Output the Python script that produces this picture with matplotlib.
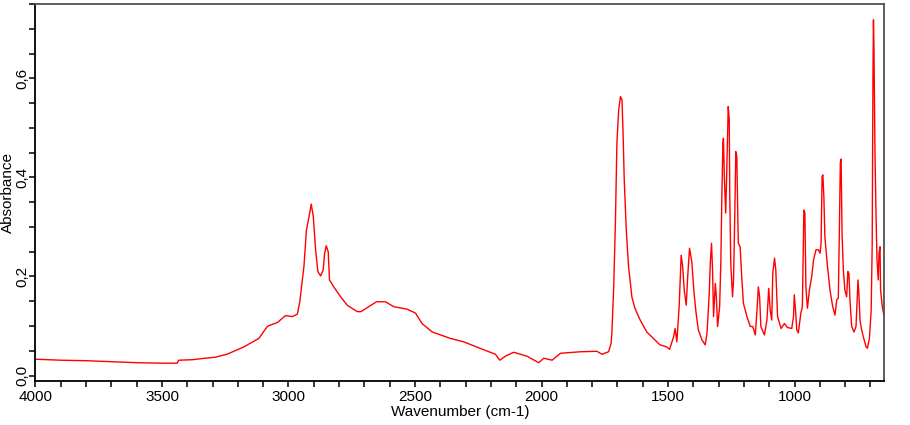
import matplotlib
matplotlib.use("Agg")
import matplotlib.pyplot as plt
from matplotlib.ticker import MultipleLocator, FuncFormatter

wavenumber = [
    4000, 3900, 3800, 3700, 3600, 3500, 3440, 3434, 3380, 3330, 3290, 3243, 3176, 3117,
    3084, 3071, 3044, 3012, 2985, 2965, 2955, 2950, 2939, 2929, 2920, 2910, 2902, 2893,
    2884, 2873, 2863, 2857, 2851, 2843, 2838, 2821, 2794, 2768, 2728, 2714, 2683, 2652,
    2617, 2584, 2531, 2498, 2472, 2432, 2360, 2307, 2228, 2182, 2165, 2143, 2110, 2057,
    2011, 1991, 1958, 1925, 1847, 1781, 1761, 1735, 1725, 1722, 1715, 1708, 1702, 1695,
    1688, 1682, 1678, 1673, 1665, 1656, 1650, 1643, 1631, 1610, 1584, 1558, 1532, 1506,
    1494, 1478, 1472, 1465, 1456, 1448, 1442, 1436, 1428, 1423, 1415, 1406, 1397, 1389,
    1380, 1366, 1353, 1346, 1337, 1333, 1328, 1324, 1320, 1313, 1309, 1304, 1296, 1291,
    1287, 1283, 1281, 1277, 1272, 1268, 1262, 1258, 1256, 1252, 1245, 1241, 1236, 1232,
    1228, 1224, 1222, 1215, 1208, 1202, 1188, 1175, 1165, 1155, 1149, 1143, 1138, 1133,
    1119, 1109, 1102, 1096, 1090, 1086, 1079, 1074, 1067, 1053, 1040, 1028, 1011, 1004,
    1001, 996, 991, 985, 975, 969, 965, 963, 959, 955, 949, 941, 932, 925, 915, 906, 899,
    895, 891, 888, 884, 880, 871, 860, 849, 840, 833, 827, 823, 819, 816, 812, 807, 801,
    794, 789, 785, 781, 774, 765, 757, 752, 749, 745, 741, 736, 728, 717, 712, 704, 697,
    693, 690, 688, 686, 682, 678, 674, 669, 666, 662, 660, 653, 647, 645,
]
absorbance = [
    0.033, 0.031, 0.030, 0.028, 0.026, 0.025, 0.025, 0.031, 0.032, 0.035, 0.037, 0.043, 0.058, 0.075,
    0.099, 0.102, 0.107, 0.121, 0.119, 0.124, 0.150, 0.173, 0.220, 0.294, 0.318, 0.346, 0.321, 0.254,
    0.210, 0.201, 0.213, 0.247, 0.262, 0.250, 0.193, 0.179, 0.159, 0.142, 0.129, 0.129, 0.139, 0.149,
    0.149, 0.139, 0.134, 0.126, 0.105, 0.088, 0.075, 0.068, 0.052, 0.043, 0.031, 0.039, 0.047, 0.039,
    0.026, 0.035, 0.031, 0.045, 0.048, 0.049, 0.043, 0.048, 0.065, 0.085, 0.173, 0.307, 0.469, 0.536,
    0.563, 0.557, 0.496, 0.395, 0.294, 0.220, 0.193, 0.159, 0.136, 0.112, 0.088, 0.075, 0.062, 0.058,
    0.053, 0.078, 0.095, 0.068, 0.139, 0.243, 0.220, 0.173, 0.142, 0.193, 0.257, 0.230, 0.166, 0.126,
    0.092, 0.072, 0.062, 0.085, 0.166, 0.227, 0.267, 0.213, 0.119, 0.186, 0.159, 0.099, 0.139, 0.233,
    0.368, 0.469, 0.479, 0.395, 0.328, 0.408, 0.543, 0.516, 0.368, 0.227, 0.159, 0.193, 0.328, 0.452,
    0.442, 0.314, 0.267, 0.260, 0.193, 0.146, 0.119, 0.099, 0.099, 0.082, 0.126, 0.179, 0.159, 0.099,
    0.082, 0.112, 0.176, 0.132, 0.112, 0.206, 0.237, 0.213, 0.119, 0.095, 0.105, 0.097, 0.095, 0.119,
    0.163, 0.132, 0.092, 0.086, 0.126, 0.139, 0.274, 0.334, 0.328, 0.179, 0.136, 0.173, 0.200, 0.233, 0.254, 0.254, 0.247,
    0.267, 0.402, 0.405, 0.361, 0.280, 0.227, 0.173, 0.139, 0.122, 0.153, 0.156, 0.284, 0.429, 0.437, 0.284, 0.213, 0.173,
    0.159, 0.210, 0.206, 0.153, 0.099, 0.088, 0.099, 0.156, 0.193, 0.159, 0.112, 0.095, 0.078, 0.058, 0.055, 0.075, 0.132,
    0.264, 0.600, 0.718, 0.660, 0.450, 0.328, 0.233, 0.193, 0.247, 0.260, 0.173, 0.139, 0.122, 0.120,
]

plt.rcParams['font.family'] = ['Liberation Sans', 'DejaVu Sans']

fig = plt.figure(figsize=(9.1, 4.25), dpi=100)
ax = fig.add_axes([0.039, 0.1035, 0.9328, 0.8871])
ax.plot(wavenumber, absorbance, color='#ff0000', lw=1.0)

ax.set_xlim(4000, 645)
ax.set_ylim(-0.011, 0.75)

ax.xaxis.set_major_locator(MultipleLocator(500))
ax.xaxis.set_minor_locator(MultipleLocator(100))
ax.yaxis.set_major_locator(MultipleLocator(0.2))
ax.yaxis.set_minor_locator(MultipleLocator(0.05))
ax.yaxis.set_major_formatter(FuncFormatter(lambda v, p: f"{v:.1f}".replace('.', ',')))
ax.xaxis.set_major_formatter(FuncFormatter(lambda v, p: f"{v:.0f}"))

ax.tick_params(which='both', direction='out', length=4.5, width=1.1, color='black',
               labelsize=11)
ax.tick_params(axis='x', pad=2)
ax.tick_params(axis='y', labelrotation=90, pad=0)
for lbl in ax.get_yticklabels():
    lbl.set_va('center')

for side in ('left', 'bottom'):
    ax.spines[side].set_color('black')
    ax.spines[side].set_linewidth(1.3)
for side in ('top', 'right'):
    ax.spines[side].set_color('#505050')
    ax.spines[side].set_linewidth(1.3)

ax.set_xlabel('Wavenumber (cm-1)', fontsize=11, labelpad=1)
ax.set_ylabel('Absorbance', fontsize=11)
ax.yaxis.set_label_coords(-0.0245, 0.5)

fig.savefig('out.png', dpi=100)
